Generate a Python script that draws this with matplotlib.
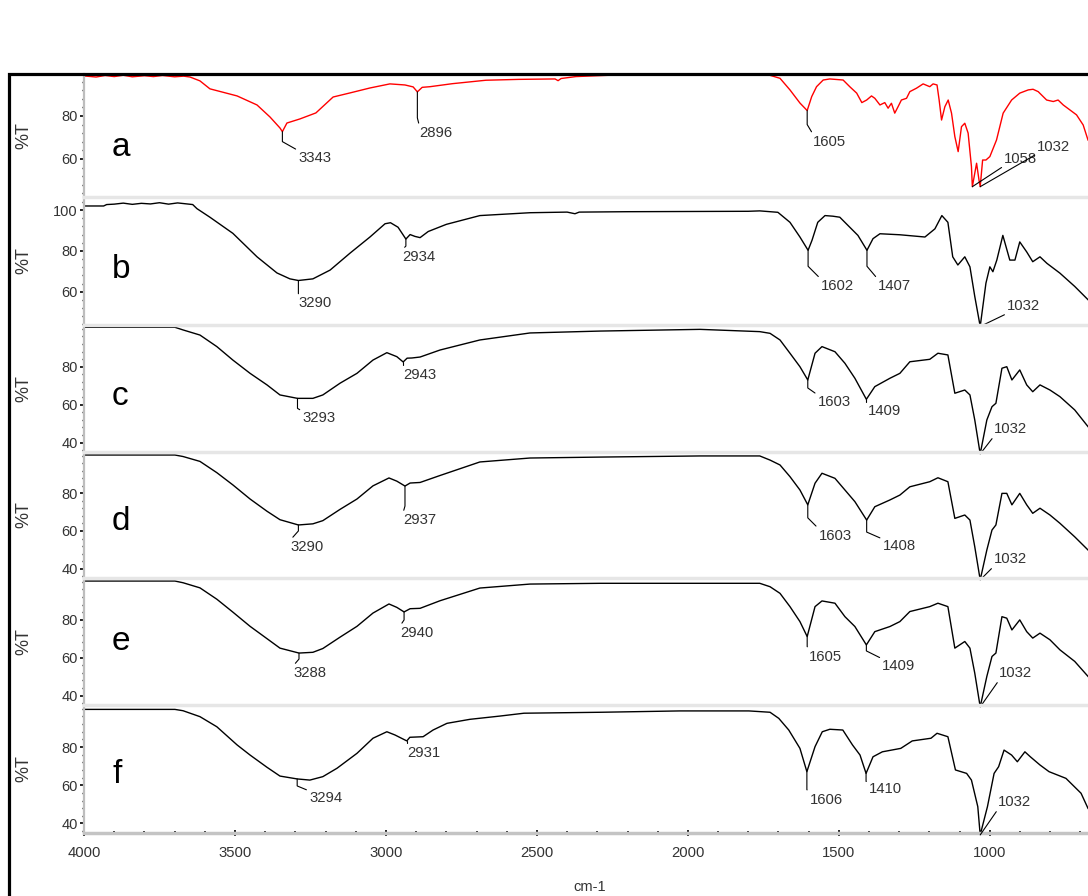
import numpy as np
import matplotlib
matplotlib.use('Agg')
import matplotlib.pyplot as plt
from matplotlib.ticker import MultipleLocator
from matplotlib.patches import Rectangle

plt.rcParams['font.family'] = ['Liberation Sans', 'DejaVu Sans']

# spectra: wavenumber (cm-1) and %T
a_wn = [4000, 3960, 3930, 3900, 3870, 3840, 3800, 3770, 3740, 3700, 3670, 3649, 3616, 3583, 3493,
        3427, 3384, 3351, 3343, 3328, 3285, 3232, 3175, 3119, 3053, 2987, 2937, 2910, 2896, 2880,
        2854, 2780, 2669, 2560, 2440, 2430, 2420, 2371, 2209, 2050, 1960, 1850, 1738, 1695, 1662,
        1629, 1605, 1590, 1574, 1552, 1530, 1486, 1464, 1441, 1424, 1408, 1392, 1381, 1364, 1348,
        1337, 1326, 1315, 1304, 1293, 1276, 1265, 1243, 1221, 1199, 1188, 1175, 1168, 1160, 1149,
        1138, 1127, 1116, 1105, 1094, 1083, 1072, 1061, 1058, 1044, 1036, 1032, 1024, 1013, 1000,
        978, 956, 928, 901, 873, 857, 840, 812, 790, 774, 757, 735, 713, 691, 675]
a_T = [98.6, 98.1, 98.8, 98.3, 98.9, 98.2, 98.7, 98.3, 98.8, 98.2, 98.5, 98.1, 96.3, 92.6, 89.3,
       85.1, 79.5, 74.4, 72.7, 76.7, 78.6, 81.4, 88.8, 90.7, 93.0, 94.9, 94.4, 93.5, 91.2, 93.3,
       93.6, 95.0, 96.6, 97.0, 97.2, 96.4, 97.4, 98.3, 99.2, 99.0, 99.4, 99.1, 99.3, 97.5, 92.1,
       86.0, 82.5, 89.0, 93.6, 96.7, 97.2, 96.7, 93.6, 90.6, 86.2, 87.4, 89.3, 88.2, 85.1, 86.2,
       83.6, 85.9, 81.3, 84.3, 87.4, 88.2, 91.3, 92.9, 94.9, 93.6, 94.9, 94.4, 87.4, 78.1, 84.3,
       87.4, 81.3, 70.4, 63.4, 75.0, 76.6, 72.0, 56.4, 47.1, 58.0, 50.2, 47.1, 59.5, 59.5, 61.1,
       68.8, 81.3, 87.4, 90.6, 92.1, 92.4, 91.3, 87.4, 86.7, 87.4, 85.1, 82.8, 80.5, 75.8, 68.8]

b_wn = [4000, 3935, 3925, 3900, 3870, 3840, 3810, 3780, 3750, 3720, 3690, 3665, 3640, 3626, 3583,
        3507, 3427, 3361, 3318, 3290, 3242, 3185, 3119, 3053, 3003, 2985, 2960, 2934, 2920, 2904,
        2887, 2860, 2800, 2689, 2523, 2400, 2374, 2360, 2200, 2000, 1800, 1762, 1702, 1662, 1629,
        1602, 1589, 1570, 1546, 1520, 1497, 1464, 1437, 1407, 1387, 1364, 1298, 1215, 1182, 1159,
        1139, 1123, 1106, 1083, 1066, 1050, 1032, 1013, 1000, 990, 977, 957, 934, 917, 901,
        878, 858, 834, 811, 768, 719, 675]
b_T = [102.0, 102.0, 102.7, 102.9, 103.4, 102.8, 103.3, 103.0, 103.6, 102.9, 103.5, 103.1, 102.7, 100.7, 96.5,
       88.6, 77.1, 69.2, 66.3, 65.5, 66.3, 70.6, 78.9, 86.8, 93.3, 93.8, 91.6, 85.8, 88.0, 87.1,
       86.5, 89.5, 93.0, 97.3, 98.7, 99.0, 98.2, 99.0, 99.2, 99.3, 99.4, 99.6, 98.9, 94.0, 86.8,
       80.3, 85.2, 94.0, 97.3, 97.0, 96.5, 91.6, 87.6, 80.3, 86.0, 88.4, 87.9, 86.8, 90.8, 97.3,
       94.0, 77.1, 73.1, 77.1, 72.2, 57.7, 43.0, 64.2, 72.2, 69.8, 75.5, 87.6, 75.5, 75.5, 84.4,
       79.5, 74.7, 77.1, 73.9, 69.1, 62.6, 56.1]

c_wn = [4000, 3699, 3672, 3616, 3560, 3507, 3450, 3394, 3351, 3293, 3242, 3209, 3152, 3096, 3043,
        2997, 2964, 2943, 2930, 2914, 2887, 2821, 2689, 2523, 2291, 1960, 1762, 1728, 1695, 1662,
        1629, 1603, 1579, 1556, 1513, 1480, 1447, 1409, 1381, 1331, 1298, 1265, 1199, 1172, 1139,
        1116, 1083, 1066, 1050, 1032, 1010, 993, 980, 960, 944, 927, 901, 878, 858, 834,
        801, 768, 719, 675]
c_T = [100.8, 100.8, 99.4, 96.7, 90.6, 83.5, 76.5, 70.4, 65.1, 63.3, 63.3, 65.1, 71.3, 76.5, 83.5,
       87.4, 85.3, 82.5, 84.5, 84.6, 85.1, 88.8, 94.1, 97.8, 98.8, 99.7, 98.5, 97.6, 94.1, 87.1,
       80.0, 73.0, 87.1, 90.6, 87.9, 81.8, 73.9, 62.8, 69.5, 73.9, 76.5, 82.6, 83.9, 87.1, 86.2,
       66.0, 67.7, 65.1, 51.9, 34.0, 51.9, 58.9, 60.7, 79.2, 80.0, 73.0, 78.3, 70.4, 66.8, 70.4,
       67.7, 64.2, 57.2, 48.4]

d_wn = [4000, 3699, 3672, 3616, 3560, 3507, 3450, 3394, 3351, 3290, 3242, 3209, 3152, 3096, 3043,
        2990, 2964, 2937, 2920, 2887, 2821, 2689, 2523, 2291, 1960, 1762, 1728, 1695, 1662, 1629,
        1603, 1579, 1556, 1513, 1480, 1447, 1408, 1381, 1331, 1298, 1265, 1199, 1172, 1139, 1116,
        1083, 1066, 1050, 1032, 1010, 993, 980, 960, 944, 927, 901, 878, 858, 834, 801,
        768, 719, 675]
d_T = [100.4, 100.4, 99.6, 97.0, 91.0, 84.5, 77.0, 70.5, 66.0, 63.2, 63.8, 65.5, 71.5, 77.0, 84.0,
       88.2, 86.5, 83.9, 85.5, 85.8, 89.5, 96.7, 98.8, 99.3, 99.9, 99.9, 97.7, 95.1, 88.9, 81.8,
       73.9, 85.4, 90.7, 88.0, 81.8, 75.6, 65.8, 72.9, 76.5, 79.1, 83.5, 86.2, 88.3, 86.2, 66.7,
       68.5, 65.8, 51.6, 34.0, 49.9, 60.5, 63.2, 80.0, 80.0, 73.9, 80.0, 73.9, 69.4, 72.1, 68.5,
       64.1, 56.9, 49.9]

e_wn = [4000, 3699, 3672, 3616, 3560, 3507, 3450, 3394, 3351, 3288, 3242, 3209, 3152, 3096, 3043,
        2990, 2964, 2940, 2920, 2887, 2821, 2689, 2523, 2291, 1960, 1762, 1728, 1695, 1662, 1629,
        1605, 1579, 1556, 1513, 1480, 1447, 1409, 1381, 1331, 1298, 1265, 1199, 1172, 1139, 1116,
        1083, 1066, 1050, 1032, 1010, 993, 980, 960, 944, 927, 901, 878, 858, 834, 801,
        768, 719, 675]
e_T = [100.4, 100.4, 99.5, 96.8, 90.8, 84.0, 76.5, 70.0, 65.0, 62.4, 62.8, 64.8, 70.8, 76.5, 83.5,
       88.3, 86.5, 84.1, 85.8, 86.0, 90.0, 96.7, 98.8, 99.2, 99.2, 99.2, 97.4, 93.9, 86.9, 79.0,
       71.1, 86.9, 89.9, 88.7, 81.6, 76.4, 66.7, 73.7, 76.4, 79.0, 84.3, 86.9, 88.7, 86.9, 65.0,
       68.5, 65.0, 51.8, 34.0, 50.1, 60.6, 62.4, 81.6, 80.8, 74.6, 79.9, 73.7, 70.3, 72.9, 69.4,
       64.1, 58.0, 50.1]

f_wn = [4000, 3699, 3672, 3616, 3560, 3493, 3450, 3394, 3351, 3294, 3252, 3209, 3162, 3096, 3043,
        2997, 2970, 2931, 2921, 2877, 2844, 2798, 2722, 2623, 2543, 2288, 2026, 1798, 1728, 1699,
        1666, 1629, 1606, 1579, 1555, 1530, 1487, 1455, 1430, 1410, 1387, 1356, 1295, 1257, 1195,
        1175, 1139, 1114, 1077, 1061, 1040, 1032, 1008, 986, 971, 953, 928, 909, 884, 866,
        834, 804, 748, 698, 675]
f_T = [99.7, 99.7, 99.0, 95.9, 90.6, 81.1, 75.8, 69.4, 64.8, 63.3, 62.7, 64.5, 68.9, 76.7, 84.6,
       88.0, 86.3, 83.2, 85.1, 85.4, 88.9, 92.4, 94.5, 96.2, 97.7, 98.2, 98.9, 98.9, 98.2, 95.0,
       88.9, 79.3, 67.1, 80.2, 88.0, 89.3, 88.9, 81.1, 75.8, 66.2, 74.9, 77.5, 79.3, 83.2, 84.6,
       87.2, 85.4, 68.0, 66.2, 62.7, 48.8, 34.0, 48.8, 66.2, 69.7, 78.4, 75.8, 72.3, 77.5, 74.9,
       70.6, 67.1, 63.6, 55.8, 47.9]

names = ['a', 'b', 'c', 'd', 'e', 'f']
spectra = [(a_wn, a_T), (b_wn, b_T), (c_wn, c_T), (d_wn, d_T), (e_wn, e_T), (f_wn, f_T)]
colors = ['#ff0000', 'black', 'black', 'black', 'black', 'black']

# labelled peaks per panel
peaks = [[3343, 2896, 1605, 1058, 1032],
         [3290, 2934, 1602, 1407, 1032],
         [3293, 2943, 1603, 1409, 1032],
         [3290, 2937, 1603, 1408, 1032],
         [3288, 2940, 1605, 1409, 1032],
         [3294, 2931, 1606, 1410, 1032]]
# label offsets from the peak (dx, dy in px, vertical leader length in px)
offsets = [[(16, -26, 10), (2, -41, 26), (6, -31, 14), (32, 28, 0), (57, 40, 0)],
           [(0, -23, 11), (-4, -18, 7), (13, -36, 16), (11, -36, 16), (27, 20, 0)],
           [(5, -20, 10), (0, -13, 4), (10, -22, 8), (2, -12, 4), (14, 25, 0)],
           [(-8, -22, 6), (-2, -34, 20), (11, -31, 13), (16, -26, 12), (14, 21, 0)],
           [(-6, -20, 6), (-4, -21, 8), (2, -20, 10), (16, -21, 6), (19, 34, 0)],
           [(12, -19, 7), (0, -12, 5), (3, -28, 18), (3, -16, 8), (18, 33, 0)]]

ylims = [(42.3, 99.5), (43.7, 106.4), (35, 102), (35, 102), (35, 102), (35, 102)]
yticks = [[60, 80], [60, 80, 100], [40, 60, 80], [40, 60, 80], [40, 60, 80], [40, 60, 80]]
xticks = [4000, 3500, 3000, 2500, 2000, 1500, 1000]

W, H = 1088, 896
panel_px = [(74, 197), (197, 325), (325, 452), (452, 578), (578, 705), (705, 833)]
letter_y = [0.33, 0.37, 0.37, 0.38, 0.43, 0.39]
txt = '#333333'

fig = plt.figure(figsize=(W / 100, H / 100), dpi=100)

for i, (wn, T) in enumerate(spectra):
    top, bot = panel_px[i]
    ax = fig.add_axes([84 / W, 1 - bot / H, 1004 / W, (bot - top) / H])
    ax.set_facecolor('none')
    ax.plot(wn, T, color=colors[i], lw=1.0)
    ax.set_xlim(4000, 675)
    ax.set_ylim(*ylims[i])
    ax.set_yticks(yticks[i])
    ax.yaxis.set_minor_locator(MultipleLocator(4))
    ax.tick_params(axis='y', which='major', length=3, width=1.2, color='black',
                   pad=1.5, labelsize=10.5, labelcolor=txt)
    ax.tick_params(axis='y', which='minor', length=1.5, width=1, color='black')

    ax.spines['right'].set_visible(False)
    ax.spines['left'].set_color('#bdbdbd')
    ax.spines['left'].set_linewidth(1.6)
    ax.spines['top'].set_color('#e6e6e6')
    ax.spines['top'].set_linewidth(2.5)
    if i == 0:
        ax.spines['top'].set_visible(False)

    if i < 5:
        ax.spines['bottom'].set_visible(False)
        ax.set_xticks([])
    else:
        ax.spines['bottom'].set_color('#c4c4c4')
        ax.spines['bottom'].set_linewidth(2.5)
        ax.set_xticks(xticks)
        ax.xaxis.set_minor_locator(MultipleLocator(100))
        ax.tick_params(axis='x', which='major', direction='inout', length=5, width=1.2,
                       color='black', pad=7, labelsize=10.7, labelcolor=txt)
        ax.tick_params(axis='x', which='minor', direction='inout', length=3, width=1.2,
                       color='black')

    ax.set_ylabel('%T', fontsize=13, color=txt, va='center')
    ax.yaxis.set_label_coords(-0.060, 0.5)

    ax.text(0.028, letter_y[i], names[i], transform=ax.transAxes, fontsize=24,
            ha='left', va='baseline', color='black')

    # peak labels with leader lines
    for p, (dx, dy, arm) in zip(peaks[i], offsets[i]):
        yp = np.interp(p, wn[::-1], T[::-1])
        if arm > 0:
            cstyle = f"arc,angleA=0,angleB=-90,armA=0,armB={arm},rad=0"
        else:
            cstyle = "arc3,rad=0"
        rel = (0, 0) if dy > 0 else (0, 1)
        ax.annotate(str(p), xy=(p, yp), xytext=(dx, dy), textcoords='offset pixels',
                    ha='left', va='center', fontsize=10.7, color=txt,
                    annotation_clip=False,
                    arrowprops=dict(arrowstyle='-', color='black', lw=0.8,
                                    shrinkA=0, shrinkB=0, relpos=rel,
                                    connectionstyle=cstyle))

fig.text(590 / W, 1 - 887 / H, 'cm-1', ha='center', va='center', fontsize=10.5, color=txt)

# black frame around the chart
frame = Rectangle((9 / W, -0.05), 1.2, 1 - 74 / H + 0.05, transform=fig.transFigure,
                  fill=False, ec='black', lw=2.3, zorder=10, clip_on=False)
fig.add_artist(frame)

fig.savefig('out.png', dpi=100)
